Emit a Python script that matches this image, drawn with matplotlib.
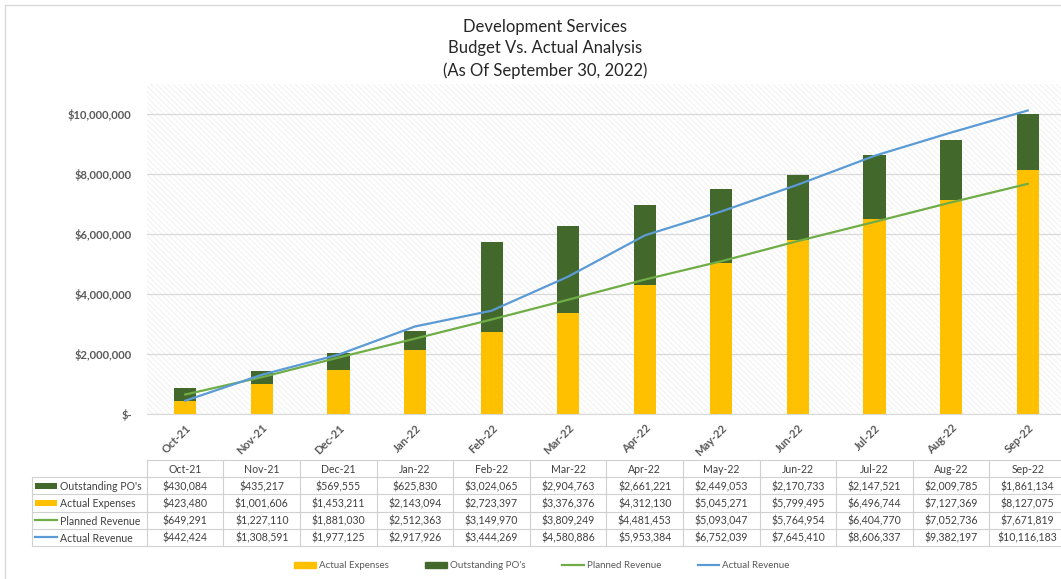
import numpy as np
import matplotlib
matplotlib.use("Agg")
import matplotlib.pyplot as plt
from matplotlib.ticker import FuncFormatter
from matplotlib.patches import Rectangle
from matplotlib.lines import Line2D

plt.rcParams['font.family'] = ['Lato', 'DejaVu Sans']
plt.rcParams['hatch.linewidth'] = 0.5

# Data
months = ["Oct-21", "Nov-21", "Dec-21", "Jan-22", "Feb-22", "Mar-22",
          "Apr-22", "May-22", "Jun-22", "Jul-22", "Aug-22", "Sep-22"]
outstanding_po = [430084, 435217, 569555, 625830, 3024065, 2904763,
                  2661221, 2449053, 2170733, 2147521, 2009785, 1861134]
actual_expenses = [423480, 1001606, 1453211, 2143094, 2723397, 3376376,
                   4312130, 5045271, 5799495, 6496744, 7127369, 8127075]
planned_revenue = [649291, 1227110, 1881030, 2512363, 3149970, 3809249,
                   4481453, 5093047, 5764954, 6404770, 7052736, 7671819]
actual_revenue = [442424, 1308591, 1977125, 2917926, 3444269, 4580886,
                  5953384, 6752039, 7645410, 8606337, 9382197, 10116183]
y_ticks = [0, 2000000, 4000000, 6000000, 8000000, 10000000]

c_yellow = "#FFC000"
c_dkgreen = "#43682B"
c_green = "#70AD47"
c_blue = "#5B9BD5"
c_text = "#595959"
c_grid = "#D9D9D9"

W, H = 1061, 579
fig = plt.figure(figsize=(W / 100, H / 100), dpi=100)

def px(x0, y0, x1, y1):
    return [x0 / W, 1 - y1 / H, (x1 - x0) / W, (y1 - y0) / H]

ax = fig.add_axes(px(147, 84, 1066, 414))
ax.set_facecolor("white")
ax.patch.set_hatch("\\\\\\\\\\\\")
ax.patch.set_edgecolor("#EBEBEB")
ax.patch.set_linewidth(0)

x = np.arange(len(months))
bw = 0.29
ax.bar(x, actual_expenses, bw, color=c_yellow, zorder=3, label="Actual Expenses")
ax.bar(x, outstanding_po, bw, bottom=actual_expenses, color=c_dkgreen,
       zorder=3, label="Outstanding PO's")
ax.plot(x, planned_revenue, color=c_green, lw=1.6, zorder=4, label="Planned Revenue")
ax.plot(x, actual_revenue, color=c_blue, lw=1.6, zorder=4, label="Actual Revenue")

ax.set_xlim(-0.5, len(months) - 0.5)
ax.set_ylim(0, 11000000)
ax.set_yticks(y_ticks)
ax.yaxis.set_major_formatter(FuncFormatter(
    lambda v, p: "$-" if v == 0 else "${:,.0f}".format(v)))
ax.set_xticks(x)
ax.set_xticklabels(months, rotation=45, ha="right", rotation_mode="anchor")
ax.tick_params(axis="both", length=0, colors=c_text, labelsize=8)
ax.tick_params(axis="x", pad=6)
ax.tick_params(axis="y", pad=11)
for lab in ax.get_xticklabels() + ax.get_yticklabels():
    lab.set_fontweight("bold")
ax.grid(axis="y", color=c_grid, lw=0.9, zorder=1)
for s in ["top", "right", "left"]:
    ax.spines[s].set_visible(False)
ax.spines["bottom"].set_color(c_grid)

# Title
for yy, line in [(27, "Development Services"), (48, "Budget Vs. Actual Analysis"),
                 (71, "(As Of September 30, 2022)")]:
    fig.text(545 / W, 1 - yy / H, line, ha="center", va="center",
             fontsize=12, color="#262626")

# Data table
tx = fig.add_axes(px(32, 460, 1066, 546))
lab_w = 1.5
tx.set_xlim(-0.5 - lab_w, len(months) - 0.5)
tx.set_ylim(5, 0)
tx.axis("off")
rows = [("Outstanding PO's", outstanding_po, "patch", c_dkgreen),
        ("Actual Expenses", actual_expenses, "patch", c_yellow),
        ("Planned Revenue", planned_revenue, "line", c_green),
        ("Actual Revenue", actual_revenue, "line", c_blue)]
lc = "#D0D0D0"
lw = 0.8
tx.plot([-0.5, len(months) - 0.5], [0, 0], color=lc, lw=lw, clip_on=False)
for r in range(1, 6):
    tx.plot([-0.5 - lab_w, len(months) - 0.5], [r, r], color=lc, lw=lw, clip_on=False)
tx.plot([-0.5 - lab_w, -0.5 - lab_w], [1, 5], color=lc, lw=lw, clip_on=False)
for c in range(len(months) + 1):
    tx.plot([c - 0.5, c - 0.5], [0, 5], color=lc, lw=lw, clip_on=False)
fs = 7.6
for i, m in enumerate(months):
    tx.text(i, 0.55, m, ha="center", va="center", fontsize=fs, color="#404040")
for r, (name, vals, kind, col) in enumerate(rows, start=1):
    xs = -0.5 - lab_w + 0.04
    if kind == "patch":
        tx.add_patch(Rectangle((xs, r + 0.32), 0.29, 0.36, color=col, lw=0))
    else:
        tx.plot([xs, xs + 0.29], [r + 0.5, r + 0.5], color=col, lw=1.6)
    tx.text(xs + 0.32, r + 0.55, name, ha="left", va="center",
            fontsize=fs, color="#404040")
    for i, v in enumerate(vals):
        tx.text(i, r + 0.55, "${:,.0f}".format(v), ha="center", va="center",
                fontsize=fs, color="#404040")

# Legend
handles = [Rectangle((0, 0), 1, 1, color=c_yellow),
           Rectangle((0, 0), 1, 1, color=c_dkgreen),
           Line2D([], [], color=c_green, lw=1.6),
           Line2D([], [], color=c_blue, lw=1.6)]
labels = ["Actual Expenses", "Outstanding PO's", "Planned Revenue", "Actual Revenue"]
leg = fig.legend(handles, labels, loc="center", ncol=4, frameon=False,
                 bbox_to_anchor=(542 / W, 1 - 566 / H), fontsize=7,
                 handlelength=2.2, handleheight=0.5, columnspacing=3.8,
                 handletextpad=0.3)
for t in leg.get_texts():
    t.set_color(c_text)

# chart frame
fig.add_artist(Line2D([5 / W, 5 / W], [0, 1 - 5 / H], color="#D9D9D9", lw=1))
fig.add_artist(Line2D([5 / W, 1], [1 - 5 / H, 1 - 5 / H], color="#D9D9D9", lw=1))

fig.savefig("out.png", dpi=100)
